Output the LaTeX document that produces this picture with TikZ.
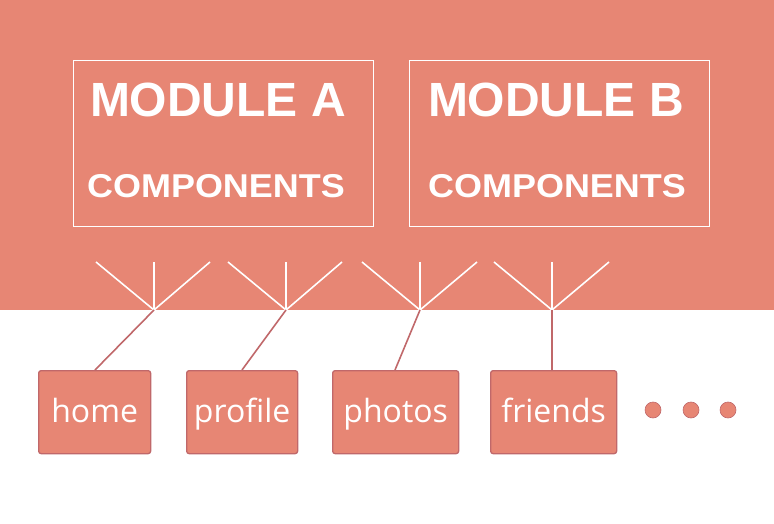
\documentclass[tikz,border=0pt]{standalone}
\usepackage{fontspec}
\setmainfont{Liberation Sans}
\newfontfamily\boxfont{Open Sans}
\definecolor{salmon}{HTML}{E78674}
\definecolor{edgered}{HTML}{C0686A}
\begin{document}
\begin{tikzpicture}[x=1pt,y=-1pt,
  modbox/.style={draw=white,line width=1pt,minimum width=300pt,minimum height=166pt,anchor=north west,inner sep=0pt},
  titletext/.style={text=white,font=\fontsize{48}{48}\selectfont\bfseries,inner sep=0pt},
  comptext/.style={text=white,font=\fontsize{33}{33}\selectfont\bfseries,inner sep=0pt},
  fan/.style={draw=white,line width=1.6pt},
  link/.style={draw=edgered,line width=1.6pt},
  pagebox/.style={fill=salmon,draw=edgered,line width=1.3pt,rounded corners=2.5pt,anchor=north west,inner sep=0pt,minimum height=83pt,text height=25.5pt,text depth=4.5pt,text=white,font=\boxfont\fontsize{32}{32}\selectfont},
  dot/.style={circle,fill=salmon,draw=edgered,line width=0.6pt,minimum size=16pt,inner sep=0pt}]
\useasboundingbox (0,0) rectangle (774,524);
\fill[salmon] (0,0) rectangle (774,310);
\node[modbox] (ma) at (73,60) {};
\node[modbox] (mb) at (409,60) {};
\node[titletext] (ta) at (218,100) {MODULE A};
\node[titletext] (tb) at (556,100) {MODULE B};
\node[comptext] (ca) at (216,186) {\scalebox{1.09}[1]{COMPONENTS}};
\node[comptext] (cb) at (557,186) {\scalebox{1.09}[1]{COMPONENTS}};
% fans
\foreach \i/\cx/\l/\r in {1/154/96/210, 2/286/228/342, 3/420/362/477, 4/552/494/609}{
  \coordinate (v\i) at (\cx,310);
  \coordinate (l\i) at (\l,262);
  \coordinate (m\i) at (\cx,262);
  \coordinate (r\i) at (\r,262);
  \draw[fan] (l\i) -- (v\i) -- (r\i);
  \draw[fan] (m\i) -- (v\i);
}
% page boxes
\node[pagebox,minimum width=112pt] (home) at (38,370) {home};
\node[pagebox,minimum width=111pt] (profile) at (186,370) {profile};
\node[pagebox,minimum width=126pt] (photos) at (332,370) {photos};
\node[pagebox,minimum width=126pt] (friends) at (490,370) {friends};
\draw[link] (v1) -- (home.north west -| 95,0);
\draw[link] (v2) -- (profile.north west -| 242,0);
\draw[link] (v3) -- (photos.north west -| 395,0);
\draw[link] (v4) -- (friends.north west -| 552,0);
\node[dot] (d1) at (653,410) {};
\node[dot] (d2) at (691,410) {};
\node[dot] (d3) at (728,410) {};
\end{tikzpicture}
\end{document}
